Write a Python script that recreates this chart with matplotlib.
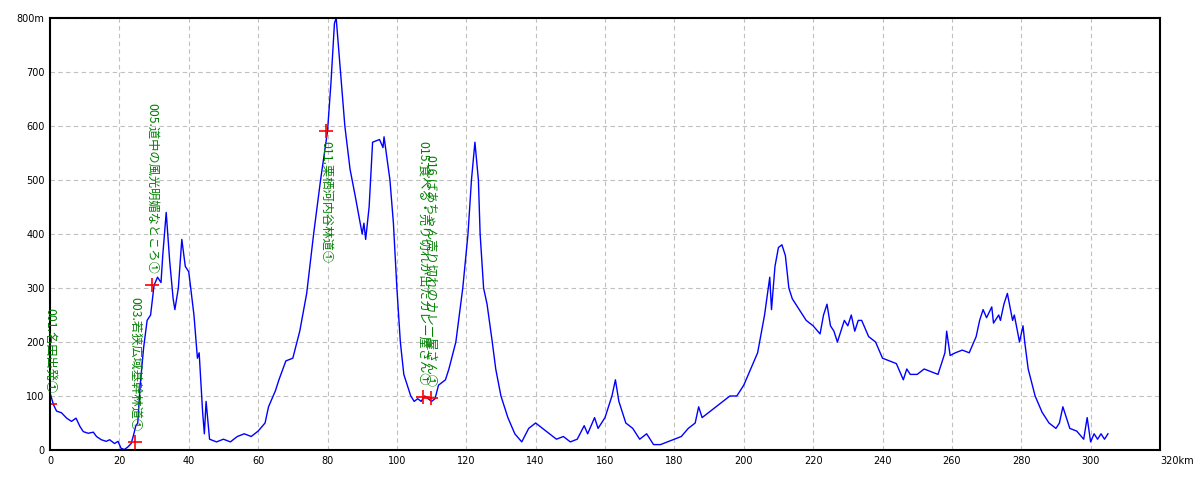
import matplotlib
matplotlib.use("Agg")
import matplotlib.pyplot as plt

plt.rcParams["font.family"] = ["Noto Sans CJK JP", "DejaVu Sans"]

# elevation profile (km, m)
dist = [0, 1, 1.9, 3.3, 4.8, 6.2, 7.5, 8.6, 9.6, 11, 12.5, 13.4, 14.8, 16.2, 17.2,
        18.6, 19.6, 20.5, 21.5, 22.5, 23.4, 24.1, 24.7, 25.3, 26, 27, 28, 29, 30,
        31, 32, 32.5, 33.5, 34.5, 35.5, 36, 37, 38, 39, 40, 41.5, 42.5, 43, 44,
        44.5, 45, 46, 48, 50, 52, 54, 56, 58, 60, 62, 63, 65, 66, 68, 70, 72, 74,
        76, 77, 78, 80, 81, 82, 82.5, 83.5, 85, 86.5, 88, 90, 90.5, 91, 92, 93,
        95, 96, 96.3, 98, 99, 100, 101, 102, 103, 104, 105, 106, 107, 108, 110,
        111, 112, 114, 115, 117, 119, 120.5, 121.5, 122.5, 123.5, 124, 125, 126,
        127.5, 128.5, 130, 132, 134, 136, 138, 140, 142, 144, 146, 148, 150, 152,
        154, 155, 157, 158, 160, 162, 163, 164, 166, 168, 170, 172, 174, 176, 178,
        180, 182, 184, 186, 187, 188, 190, 192, 194, 196, 198, 200, 202, 204, 206,
        207.5, 208, 209, 210, 211, 212, 213, 214, 216, 218, 220, 222, 223, 224,
        225, 226, 227, 229, 230, 231, 232, 233, 234, 236, 238, 240, 242, 244, 246,
        247, 248, 250, 252, 254, 256, 258, 258.5, 259.5, 261, 263, 265, 267, 268,
        269, 270, 271.5, 272, 273.5, 274, 275, 276, 277.5, 278, 279.5, 280.5, 281,
        282, 284, 286, 288, 290, 291, 292, 294, 296, 298, 299, 300, 301, 302, 303,
        304, 305]
elev = [106, 84, 72, 69, 59, 53, 59, 44, 34, 31, 33, 25, 19, 16, 19,
        12, 16, 3, 1, 6, 12, 28, 44, 50, 120, 190, 240, 250, 305,
        320, 310, 360, 440, 350, 280, 260, 300, 390, 340, 330, 250, 170, 180, 70,
        30, 90, 20, 15, 20, 15, 25, 30, 25, 35, 50, 80, 110, 130, 165, 170, 220, 290,
        400, 450, 500, 590, 680, 790, 800, 720, 600, 520, 470, 400, 420, 390, 450, 570,
        575, 560, 580, 500, 420, 300, 200, 140, 120, 100, 90, 95, 90, 100, 90,
        95, 120, 130, 150, 200, 300, 400, 500, 570, 500, 400, 300, 270,
        200, 150, 100, 60, 30, 15, 40, 50, 40, 30, 20, 25, 15, 20,
        45, 30, 60, 40, 60, 100, 130, 90, 50, 40, 20, 30, 10, 10, 15,
        20, 25, 40, 50, 80, 60, 70, 80, 90, 100, 100, 120, 150, 180, 250,
        320, 260, 340, 375, 380, 360, 300, 280, 260, 240, 230, 215, 250, 270,
        230, 220, 200, 240, 230, 250, 220, 240, 240, 210, 200, 170, 165, 160, 130,
        150, 140, 140, 150, 145, 140, 180, 220, 175, 180, 185, 180, 210, 240,
        260, 245, 265, 235, 250, 240, 270, 290, 240, 250, 200, 230, 200,
        150, 100, 70, 50, 40, 50, 80, 40, 35, 20, 60, 15, 30, 20, 30,
        20, 30]

# waypoints
wp_km = [0, 24.5, 29.5, 79.5, 107.6, 109.7]
wp_elev = [85, 15, 305, 590, 98, 96]
wp_names = ["001.名田出発①", "003.若狭広域基幹林道①", "005.道中の風光明媚なところ①",
            "011.栗栖河内谷林道①", "015.食べる・売り切れが出たカレー屋さん①",
            "016.ばあちゃん売り切れのカレー屋さん①"]
wp_below = [False, False, False, True, False, False]

xticks = list(range(0, 340, 20))
xlabels = [str(v) for v in xticks[:-1]] + ["320km"]
yticks = list(range(0, 900, 100))
ylabels = [str(v) for v in yticks[:-1]] + ["800m"]

fig = plt.figure(figsize=(12, 4.8), dpi=100)
ax = fig.add_axes([50 / 1200, 30 / 480, 1110 / 1200, 432 / 480])

ax.plot(dist, elev, color="#0000ff", lw=1)
ax.plot(wp_km, wp_elev, "+", color="#ff0000", ms=10, mew=1.2, ls="none")

for x, y, name, below in zip(wp_km, wp_elev, wp_names, wp_below):
    if below:
        ax.annotate(name, (x, y), xytext=(0, -7), textcoords="offset points",
                    rotation=270, ha="center", va="top", color="#008000", fontsize=8.8)
    else:
        ax.annotate(name, (x, y), xytext=(0, 8), textcoords="offset points",
                    rotation=270, ha="center", va="bottom", color="#008000", fontsize=8.8)

ax.set_xlim(0, 320)
ax.set_ylim(0, 800)
ax.set_xticks(xticks)
ax.set_yticks(yticks)
ax.set_xticklabels(xlabels, fontsize=7, family="DejaVu Sans")
ax.set_yticklabels(ylabels, fontsize=7, family="DejaVu Sans")
ax.get_xticklabels()[-1].set_ha("left")
ax.tick_params(length=0, pad=4)
ax.grid(True, color="#c0c0c0", ls=(0, (4, 3)), lw=0.8)
for s in ax.spines.values():
    s.set_linewidth(1.5)

fig.savefig("out.png", dpi=100)
